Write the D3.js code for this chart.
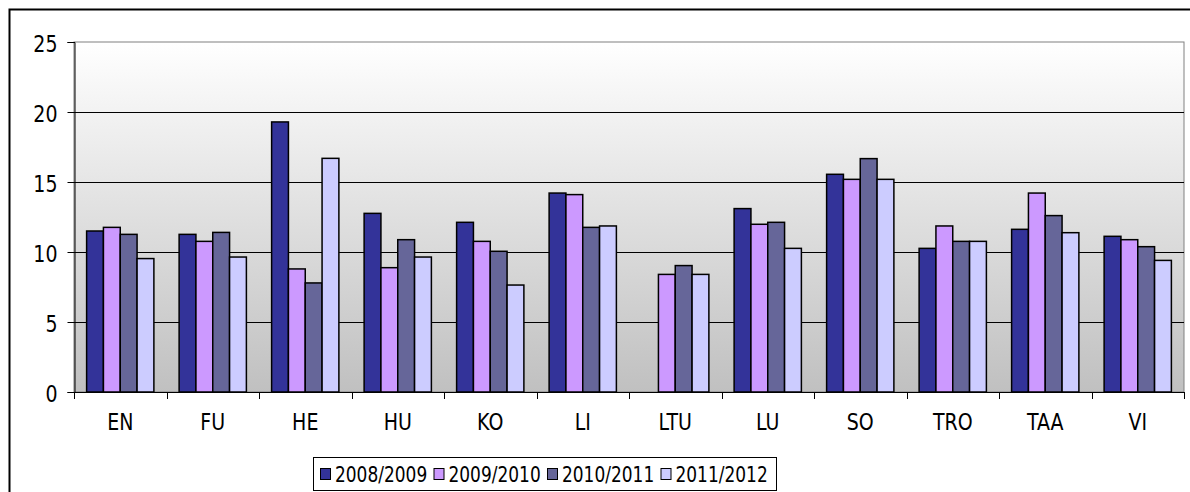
<!DOCTYPE html>
<html>
<head>
<meta charset="utf-8">
<script src="https://cdn.jsdelivr.net/npm/d3@7"></script>
<style>
  body { margin: 0; background: #fff; }
  text { font-family: "DejaVu Sans", Verdana, sans-serif; fill: #000; }
</style>
</head>
<body>
<svg id="svg1" width="1190" height="492"></svg>
<script>
// Chart data
var categories = ["EN", "FU", "HE", "HU", "KO", "LI", "LTU", "LU", "SO", "TRO", "TAA", "VI"];
var seriesNames = ["2008/2009", "2009/2010", "2010/2011", "2011/2012"];
var values0809 = [11.5, 11.26, 19.29, 12.76, 12.12, 14.21, null, 13.1, 15.55, 10.26, 11.62, 11.12];
var values0910 = [11.76, 10.76, 8.79, 8.88, 10.76, 14.1, 8.4, 11.98, 15.19, 11.86, 14.21, 10.88];
var values1011 = [11.26, 11.4, 7.79, 10.88, 10.05, 11.76, 9.03, 12.12, 16.67, 10.76, 12.6, 10.38];
var values1112 = [9.53, 9.64, 16.69, 9.64, 7.64, 11.86, 8.4, 10.26, 15.19, 10.76, 11.38, 9.4];
var yTicks = [0, 5, 10, 15, 20, 25];
var colors = ["#333399", "#cc99ff", "#666699", "#ccccff"];

var allSeries = [values0809, values0910, values1011, values1112];

// the picture is stretched a bit vertically, so the text is too
var textStretch = 1.2;

// Method to get the x-scale (one band per category)
function getScaleX() {
    return d3.scaleBand()
        .domain(categories)
        .range([74, 1184])
        .paddingInner(0)
        .paddingOuter(0);
}

// Sub-scale for the bars inside one category
function getScaleSub(bandwidth) {
    return d3.scaleBand()
        .domain(seriesNames)
        .range([0, bandwidth])
        .paddingInner(0)
        .paddingOuter(0.75);
}

// Method to get the y-scale
function getScaleY() {
    return d3.scaleLinear()
        .domain([0, 25])
        .range([392, 42]);
}

function drawFrame(svg) {
    // outer chart border, cut off at right and bottom
    svg.append("path")
        .attr("d", "M9.5,500 L9.5,9.5 L1200,9.5")
        .attr("fill", "none")
        .attr("stroke", "#000")
        .attr("stroke-width", 2);
}

function drawPlotArea(svg) {
    var scaleY = getScaleY();

    var grad = svg.append("defs").append("linearGradient")
        .attr("id", "bg")
        .attr("x1", 0).attr("y1", 0).attr("x2", 0).attr("y2", 1);
    grad.append("stop").attr("offset", "0%").attr("stop-color", "#ffffff");
    grad.append("stop").attr("offset", "100%").attr("stop-color", "#c0c0c0");

    svg.append("rect")
        .attr("x", 74)
        .attr("y", scaleY(25))
        .attr("width", 1184 - 74)
        .attr("height", scaleY(0) - scaleY(25))
        .attr("fill", "url(#bg)")
        .attr("stroke", "#808080")
        .attr("stroke-width", 1);

    // horizontal grid lines
    svg.selectAll("line.grid")
        .data(yTicks.filter(d => d > 0 && d < 25))
        .enter()
        .append("line")
        .attr("class", "grid")
        .attr("x1", 74)
        .attr("x2", 1184)
        .attr("y1", d => Math.round(scaleY(d)) + 0.5)
        .attr("y2", d => Math.round(scaleY(d)) + 0.5)
        .attr("stroke", "#000")
        .attr("stroke-width", 1);
}

function drawBars(svg) {
    var scaleX = getScaleX();
    var scaleY = getScaleY();
    var scaleSub = getScaleSub(scaleX.bandwidth());

    allSeries.forEach(function(vals, si) {
        var data = categories.map((c, i) => ({cat: c, value: vals[i]}))
            .filter(d => d.value !== null);
        svg.append("g")
            .selectAll("rect")
            .data(data)
            .enter()
            .append("rect")
            .attr("x", d => scaleX(d.cat) + scaleSub(seriesNames[si]))
            .attr("y", d => scaleY(d.value))
            .attr("width", scaleSub.bandwidth())
            .attr("height", d => scaleY(0) - scaleY(d.value))
            .attr("fill", colors[si])
            .attr("stroke", "#000")
            .attr("stroke-width", 1.5);
    });
}

function drawAxes(svg) {
    var scaleX = getScaleX();
    var scaleY = getScaleY();

    // y-axis
    var yAxis = d3.axisLeft(scaleY)
        .tickValues(yTicks)
        .tickSize(7)
        .tickPadding(10)
        .tickFormat(d3.format("d"));
    var gY = svg.append("g")
        .attr("transform", "translate(74.5,0)")
        .call(yAxis);
    gY.select(".domain").attr("stroke", "#000");
    gY.selectAll("text")
        .attr("font-size", "19px")
        .attr("dy", "0.42em")
        .attr("transform", "scale(1," + textStretch + ")")
        .style("font-family", "DejaVu Sans");

    // x-axis: ticks at category boundaries
    var bounds = categories.map(c => scaleX(c)).concat([1184]);
    var gX = svg.append("g");
    gX.append("line")
        .attr("x1", 74).attr("x2", 1184)
        .attr("y1", scaleY(0) + 0.5).attr("y2", scaleY(0) + 0.5)
        .attr("stroke", "#000");
    gX.selectAll("line.tick")
        .data(bounds)
        .enter()
        .append("line")
        .attr("class", "tick")
        .attr("x1", d => Math.round(d) + 0.5)
        .attr("x2", d => Math.round(d) + 0.5)
        .attr("y1", scaleY(0))
        .attr("y2", scaleY(0) + 7)
        .attr("stroke", "#000");
    gX.selectAll("g.lab")
        .data(categories)
        .enter()
        .append("g")
        .attr("class", "lab")
        .attr("transform", d => "translate(" + (scaleX(d) + scaleX.bandwidth() / 2) + ",430)")
        .append("text")
        .attr("text-anchor", "middle")
        .attr("font-size", "19px")
        .attr("transform", "scale(1," + textStretch + ")")
        .text(d => d);
}

function drawLegend(svg) {
    var g = svg.append("g");
    g.append("rect")
        .attr("x", 313.5).attr("y", 457.5)
        .attr("width", 463).attr("height", 33)
        .attr("fill", "#fff")
        .attr("stroke", "#000");

    var items = g.selectAll("g.item")
        .data(seriesNames)
        .enter()
        .append("g")
        .attr("class", "item")
        .attr("transform", (d, i) => "translate(" + (320 + i * 113.5) + ",0)");
    items.append("rect")
        .attr("x", 0.5).attr("y", 468.5)
        .attr("width", 10).attr("height", 11)
        .attr("fill", (d, i) => colors[i])
        .attr("stroke", "#000");
    items.append("g")
        .attr("transform", "translate(15,481.5)")
        .append("text")
        .attr("font-size", "17px")
        .attr("transform", "scale(1,1.27)")
        .text(d => d);
}

function main() {
    var svg = d3.select("#svg1");
    drawFrame(svg);
    drawPlotArea(svg);
    drawBars(svg);
    drawAxes(svg);
    drawLegend(svg);
}

main();
</script>
</body>
</html>
